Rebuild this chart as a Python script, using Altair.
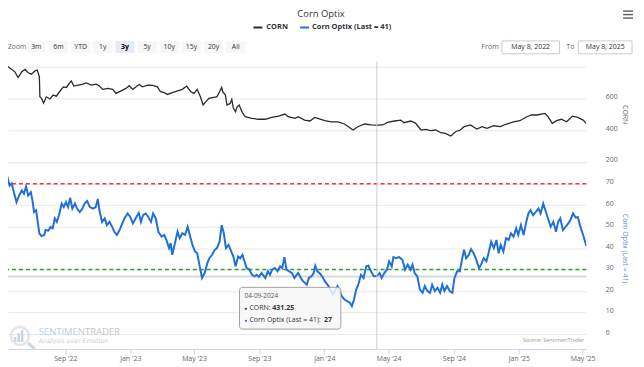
import altair as alt
import pandas as pd

START = pd.Timestamp("2022-05-08")

# CORN price (day offset from 2022-05-08, value)
corn_days = [0, 4, 12, 21, 27, 34, 40, 46, 52, 59, 63, 67, 68, 71, 75, 80, 87, 93, 99, 105,
             112, 118, 124, 127, 132, 140, 149, 155, 165, 174, 180, 186, 196, 205, 211, 221, 230, 236, 243, 249,
             255, 261, 271, 280, 289, 295, 302, 308, 317, 327, 336, 344, 352, 358, 364, 370, 375, 380, 386, 395,
             401, 406, 410, 412, 417, 420, 426, 429, 432, 436, 439, 443, 448, 454, 467, 479, 492, 504, 517, 529,
             535, 548,
             554, 566, 576, 585, 591, 604, 616, 629, 641, 657, 666, 679, 691, 702, 713, 722, 735, 747, 753, 766,
             775, 785, 794, 803, 813, 822, 831, 841, 850, 859, 866, 878, 890, 900, 909, 922, 934, 946, 959, 971,
             984, 993, 1003, 1018, 1024, 1032, 1040, 1049, 1059, 1070, 1080, 1090, 1096]
corn_vals = [789, 810, 791, 768, 732, 768, 783, 762, 753, 774, 779, 736, 610, 600, 570, 610, 596, 621, 614, 642,
             673, 669, 698, 711, 678, 684, 690, 698, 684, 690, 678, 657, 663, 657, 632, 648, 663, 680, 657, 673,
             688, 673, 684, 682, 673, 642, 636, 625, 636, 648, 657, 678, 642, 632, 657, 610, 558, 578, 600, 606,
             610, 642, 669, 642, 621, 558, 568, 594, 537, 516, 547, 558, 516, 484, 474, 468, 468, 480, 488, 501,
             484, 474,
             484, 463, 457, 480, 474, 459, 452, 452, 438, 400, 421, 438, 432, 431.25, 432, 448, 457, 463, 446, 457,
             442, 400, 404, 396, 400, 383, 379, 362, 389, 400, 421, 432, 406, 421, 411, 427, 421, 438, 452, 459,
             484, 495, 495, 505, 484, 442, 459, 468, 452, 488, 480, 463, 442]

# Corn Optix
optix_days = [0, 3, 7, 11, 15, 19, 24, 29, 34, 38, 42, 46, 51, 54, 57, 61, 63, 67, 71, 76,
              79, 84, 88, 92, 96, 100, 104, 109, 113, 117, 121, 125, 129, 134, 138, 143, 148, 152, 157, 162,
              168, 173, 177, 180, 185, 190, 194, 199, 204, 208, 213, 218, 223, 227, 233, 238, 243, 248, 254, 258,
              262, 267, 272, 277, 281, 286, 291, 297, 302, 306, 311, 314, 317, 322, 327, 331, 336, 341, 346, 350,
              355, 360, 364, 368, 373, 378, 383, 387, 392, 397, 401, 406, 410, 414, 418, 423, 428, 432, 436, 441,
              445, 449, 453, 457, 462, 467, 472, 476, 480, 485, 492, 497, 501, 505, 510, 515, 520, 524, 528, 532,
              537, 542, 547, 551,
              554, 559, 563, 570, 574, 579, 583, 586, 590, 594, 599, 604, 609, 613, 619, 624, 628, 632, 636, 641,
              646, 651, 655, 659, 663, 667, 672, 677, 682, 686, 691, 696, 702, 707, 711, 716, 721, 725, 730, 733,
              738, 744, 750, 755, 760, 765, 769, 773, 778, 783, 788, 792, 797, 802, 806, 811, 816, 821, 825, 829,
              834, 839, 844, 848, 853, 858, 862, 866, 870, 875, 879, 884, 889, 894, 898, 903, 908, 912, 917, 922,
              927, 931, 935, 940, 945, 950, 954, 959, 964, 968, 973, 978, 983, 987, 991, 996, 1001, 1006, 1010, 1015,
              1020, 1024, 1029, 1034, 1039, 1043, 1047, 1052, 1057, 1062, 1066, 1071, 1076, 1080, 1084, 1088, 1091, 1096]
optix_vals = [72.2, 75.7, 73, 69.1, 70.2, 66, 61.4, 64.5, 66.8, 65.3, 68.7, 64.5, 66, 62.2, 56.8, 57.6, 53.8, 46.9, 45.6, 46.1,
              48.4, 48.1, 49.9, 49.2, 53.8, 52.2, 55.3, 60.7, 59.1, 61.4, 59.1, 63.4, 58.4, 60.7, 58.4, 56.8, 58.4, 60.7, 61.9, 59.1,
              58.4, 59.1, 62.9, 57.6, 52.2, 53.8, 50.7, 52.2, 49.9, 47.6, 46.1, 48.4, 51.5, 53.8, 56.1, 54.5, 51.5, 53.8, 56.4, 52.2,
              55.3, 56.1, 54.5, 52.2, 56.1, 53.8, 47.6, 45.3, 46.1, 43.8, 40, 42.3, 36.9, 42.3, 47.6, 44.6, 46.9, 46.1, 49.9, 46.1,
              41.5, 38.4, 37.6, 32.3, 26.1, 28.4, 33, 35.3, 36.9, 39.2, 40, 43, 50.7, 46.9, 40, 41.5, 38.4, 36.1, 31.5, 36.1,
              35.3, 36.9, 33.8, 30.7, 30, 27.6, 26.9, 27.6, 26.6, 28.4, 26.1, 29.2, 27.6, 30, 30.7, 29.2, 31.5, 30.7, 35.8, 30,
              29.2, 28.4, 26.1, 27.6,
              28.4, 26.1, 24.6, 23, 26.1, 26.9, 28.4, 31.8, 29.2, 28.4, 26.9, 24.6, 23, 21.5, 18.4, 20.7, 22.3, 20, 17.6, 16.1,
              15.3, 14.6, 13, 16.1, 20.7, 23, 27.6, 26.1, 31.5, 31.8, 29.2, 26.9, 27, 28.4, 26.1, 28.4, 30, 33.8, 31.5, 35.8,
              35.3, 35.8, 34.6, 30, 32.3, 30, 32.3, 28.4, 26.9, 20.7, 19.2, 22.3, 20, 19.2, 23, 20, 21.5, 19.2, 23, 20,
              22.3, 20, 19.2, 26.1, 29.2, 29.2, 34.6, 39.2, 35.3, 36.9, 39.5, 37.6, 34.6, 30.7, 32.3, 35.3, 33.8, 37.6, 43, 40,
              43.8, 37.6, 41.5, 38.4, 44.6, 43.8, 46.9, 45.3, 49.2, 46.1, 50.7, 46.1, 52.2, 56.1, 57.6, 55.3, 56.8, 58.4, 56.1, 60.7,
              56.8, 53.8, 49.9, 52.2, 47.6, 52.2, 53.8, 48.4, 49.9, 51.5, 53, 56.1, 54.2, 54.5, 50.7, 47.6, 45.3, 41]

thresholds = [70, 30]
threshold_colors = ["#f03a36", "#2fa22f"]
corn_ticks = [200, 400, 600, 800]
optix_ticks = [0, 10, 20, 30, 40, 50, 60, 70, 80]
x_tick_months = [(2022, 9), (2023, 1), (2023, 5), (2023, 9), (2024, 1), (2024, 5), (2024, 9), (2025, 1), (2025, 5)]
zoom_buttons = ["3m", "6m", "YTD", "1y", "3y", "5y", "10y", "15y", "20y", "All"]
selected_button = "3y"
hover_date = "2024-04-09"

corn_df = pd.DataFrame({"date": START + pd.to_timedelta(corn_days, unit="D"), "CORN": corn_vals})
optix_df = pd.DataFrame({"date": START + pd.to_timedelta(optix_days, unit="D"), "optix": optix_vals})
thr_df = pd.DataFrame({"optix": thresholds, "c": threshold_colors})
DUMMY = pd.DataFrame({"k": [0]})

W, H = 582, 287
FONT = "Open Sans"
BLUE = "#2070d8"

x_enc = alt.X(
    "date:T",
    scale=alt.Scale(domain=["2022-05-16T00:00:00", "2025-05-08T00:00:00"]),
    title=None,
    axis=alt.Axis(
        values=[alt.DateTime(year=y, month=m, date=1) for y, m in x_tick_months],
        format="%b '%y", grid=False, domainColor="#ccd6eb", tickColor="#ccd6eb",
        tickSize=5, labelPadding=1, labelFont=FONT, labelFontSize=7, labelColor="#666666",
        labelFlush=False, labelOverlap=False,
    ),
)

corn_y = alt.Y(
    "CORN:Q",
    scale=alt.Scale(domain=[200, 800], range=[98.5, 3], nice=False, zero=False),
    axis=alt.Axis(
        orient="right", values=corn_ticks, labelExpr="datum.value == 800 ? '' : datum.label",
        grid=True, gridColor="#e9e9e9", domain=False, ticks=False, labelPadding=19,
        labelBaseline="alphabetic", labelFont=FONT, labelFontSize=7, labelColor="#666666",
        title="CORN", titleX=38, titleY=50.75, titleAngle=90, titleAlign="center",
        titleBaseline="middle", titleFont=FONT, titleFontSize=7, titleFontWeight="normal",
        titleColor="#666666",
    ),
)

optix_y = alt.Y(
    "optix:Q",
    scale=alt.Scale(domain=[0, 80], range=[272, 99], nice=False, zero=False),
    axis=alt.Axis(
        orient="right", values=optix_ticks, labelExpr="datum.value == 80 ? '' : datum.label",
        grid=True, gridColor="#e9e9e9", domain=False, ticks=False, labelPadding=19,
        labelBaseline="alphabetic", labelFont=FONT, labelFontSize=7, labelColor="#666666",
        title="Corn Optix (Last = 41)", titleX=38, titleY=185.5, titleAngle=90, titleAlign="center",
        titleBaseline="middle", titleFont=FONT, titleFontSize=7, titleFontWeight="normal",
        titleColor="#5a8fd8",
    ),
)

corn_line = alt.Chart(corn_df).mark_line(color="#2a2a2a", strokeWidth=1.3, clip=True).encode(x=x_enc, y=corn_y)
thr_rules = alt.Chart(thr_df).mark_rule(strokeDash=[4, 3], strokeWidth=1.5).encode(
    y=optix_y, color=alt.Color("c:N", scale=None))
optix_line = alt.Chart(optix_df).mark_line(color=BLUE, strokeWidth=2, clip=True).encode(x=x_enc, y=optix_y)
optix_layer = alt.layer(thr_rules, optix_line)


def label(text, x, y, size=7, color="#333333", weight="normal", align="left", font=FONT, baseline="middle", angle=0):
    return alt.Chart(DUMMY).mark_text(
        text=text, align=align, baseline=baseline, font=font, fontSize=size,
        fontWeight=weight, color=color, angle=angle,
    ).encode(x=alt.value(x), y=alt.value(y))


def box(x0, x1, y0, y1, fill, stroke=None, sw=0.0, r=0, opacity=1.0):
    kw = dict(fill=fill, cornerRadius=r, fillOpacity=opacity)
    if stroke:
        kw.update(stroke=stroke, strokeWidth=sw)
    return alt.Chart(DUMMY).mark_rect(**kw).encode(
        x=alt.value(x0), x2=alt.value(x1), y=alt.value(y0), y2=alt.value(y1))


def seg(x0, x1, y0, y1, color, width):
    return alt.Chart(DUMMY).mark_rule(color=color, strokeWidth=width).encode(
        x=alt.value(x0), x2=alt.value(x1), y=alt.value(y0), y2=alt.value(y1))


layers = []
# grey separator line inside lower pane
layers.append(seg(0, W, 214, 214, "#d9d9d9", 2))
layers.append(corn_line)
layers.append(optix_layer)

# crosshair
cross_df = pd.DataFrame({"date": [pd.Timestamp(hover_date)]})
layers.append(alt.Chart(cross_df).mark_rule(color="#cccccc", strokeWidth=1).encode(
    x=x_enc, y=alt.value(-2), y2=alt.value(H)))

# tooltip
layers.append(box(233, 335, 225, 267, "#f7f7f7", stroke="#a0a0a0", sw=1, r=3, opacity=0.85))
layers.append(label("04-09-2024", 238, 234, size=6.5, color="#555555"))
layers.append(label("\u25CF", 238, 246, size=5, color="#333333"))
layers.append(label("CORN: ", 243, 246, size=7))
layers.append(label("431.25", 266, 246, size=7, weight="bold"))
layers.append(label("\u25CF", 238, 258, size=5, color=BLUE))
layers.append(label("Corn Optix (Last = 41): ", 243, 258, size=7))
layers.append(label("27", 318, 258, size=7, weight="bold"))

# watermark
layers.append(alt.Chart(DUMMY).mark_point(shape="circle", size=330, filled=False, stroke="#dcdcdc",
                                          strokeWidth=2.5).encode(x=alt.value(12), y=alt.value(274)))
for bx0, bx1, by0 in [(6, 8.5, 275), (9.5, 12, 271), (13, 15.5, 268)]:
    layers.append(box(bx0, bx1, by0, 280, "#c9d6e3"))
layers.append(seg(20, 27, 281, 287, "#cfd9e3", 3))
layers.append(label("SENTIMEN", 31, 270, size=9.5, color="#bccfe2"))
layers.append(label("TRADER", 77.5, 270, size=9.5, color="#c4c4c4"))
layers.append(label("Analysis over Emotion", 31, 279, size=6.3, color="#cfcfcf", font="DejaVu Sans"))
layers.append(label("Source: SentimenTrader", 580, 278, size=5.5, color="#999999", align="right"))

# header: title, hamburger, legend
layers.append(label("Corn Optix", 315, -50, size=9.5, color="#333333", align="center"))
for hy in [-53, -49.5, -46]:
    layers.append(seg(619, 629, hy, hy, "#666666", 1.5))
layers.append(seg(247, 256, -36.5, -36.5, "#2a2a2a", 2))
layers.append(label("CORN", 260, -36.5, size=7.5, weight="bold"))
layers.append(seg(294, 303, -36.5, -36.5, BLUE, 2))
layers.append(label("Corn Optix (Last = 41)", 306, -36.5, size=7.5, weight="bold"))

# range selector
layers.append(label("Zoom", 0, -17, size=6.8, color="#666666"))
for i, b in enumerate(zoom_buttons):
    bx = 19 + 22.3 * i
    sel = b == selected_button
    layers.append(box(bx, bx + 19, -23, -11, "#e6ebf5" if sel else "#f7f7f7"))
    layers.append(label(b, bx + 9.5, -17, size=7, align="center",
                        weight="bold" if sel else "normal", color="#000000" if sel else "#333333"))
layers.append(label("From", 494, -17, size=7.2, color="#666666", align="right"))
layers.append(box(497, 555, -23, -10, "#ffffff", stroke="#cccccc", sw=1))
layers.append(label("May 8, 2022", 526, -16.5, size=7, align="center"))
layers.append(label("To", 566, -17, size=7.2, color="#666666", align="center"))
layers.append(box(574, 628, -23, -10, "#ffffff", stroke="#cccccc", sw=1))
layers.append(label("May 8, 2025", 601, -16.5, size=7, align="center"))

chart = alt.layer(*layers).resolve_scale(y="independent").properties(
    width=W, height=H,
    autosize=alt.AutoSizeParams(type="none"),
    padding={"left": 0, "top": 55, "right": 50, "bottom": 14},
).configure_view(strokeWidth=0)

chart.save("out.html", embed_options={"renderer": "svg", "actions": False})
